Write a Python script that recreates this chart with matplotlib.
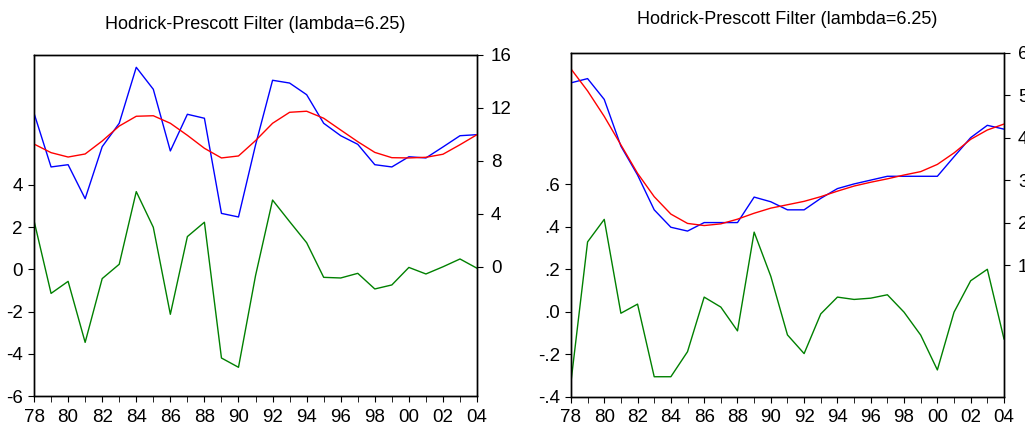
import matplotlib
matplotlib.use('Agg')
import matplotlib.pyplot as plt

plt.rcParams['font.family'] = ['Liberation Sans', 'DejaVu Sans']

# years 1978..2004
years = list(range(1978, 2005))
xtick_years = list(range(1978, 2005, 2))
xtick_labels = ['78', '80', '82', '84', '86', '88', '90', '92', '94', '96', '98', '00', '02', '04']

# left panel: actual, trend (right axis), cycle (left axis)
left_actual = [11.6, 7.54, 7.71, 5.14, 9.07, 10.84, 15.07, 13.41, 8.75, 11.52, 11.22, 4.03, 3.76,
               9.2, 14.09, 13.88, 13.0, 10.84, 9.9, 9.25, 7.71, 7.54, 8.31, 8.22, 9.05, 9.9, 9.98]
left_trend = [9.27, 8.62, 8.29, 8.52, 9.5, 10.63, 11.37, 11.41, 10.84, 9.93, 8.95, 8.22, 8.37,
              9.53, 10.84, 11.67, 11.75, 11.22, 10.33, 9.45, 8.64, 8.24, 8.22, 8.27, 8.5, 9.22, 9.98]
left_cycle = [2.3, -1.14, -0.57, -3.46, -0.44, 0.24, 3.68, 1.99, -2.13, 1.55, 2.23, -4.2, -4.64,
              -0.3, 3.28, 2.26, 1.26, -0.38, -0.41, -0.19, -0.93, -0.74, 0.09, -0.22, 0.12, 0.49, 0.05]

# right panel
right_actual = [5.29, 5.39, 4.9, 3.8, 3.12, 2.3, 1.89, 1.8, 2.0, 2.0, 2.0, 2.6, 2.49,
                2.3, 2.3, 2.57, 2.8, 2.91, 3.0, 3.09, 3.09, 3.09, 3.09, 3.55, 4.0, 4.29, 4.2]
right_trend = [5.62, 5.1, 4.5, 3.83, 3.16, 2.61, 2.2, 1.98, 1.93, 1.97, 2.08, 2.22, 2.34,
               2.42, 2.5, 2.61, 2.74, 2.86, 2.95, 3.03, 3.12, 3.2, 3.37, 3.64, 3.96, 4.18, 4.32]
right_cycle = [-0.333, 0.329, 0.435, -0.007, 0.036, -0.306, -0.306, -0.188, 0.069, 0.022, -0.09, 0.375, 0.167,
               -0.109, -0.197, -0.01, 0.069, 0.058, 0.064, 0.08, -0.002, -0.11, -0.274, -0.002, 0.146, 0.2, -0.128]

title = 'Hodrick-Prescott Filter (lambda=6.25)'

fig = plt.figure(figsize=(10.25, 4.25), dpi=100)


def panel(rect, cycle, actual, trend, ylim_l, yt_l, ylab_l, ylim_r, yt_r, title_pad):
    ax = fig.add_axes(rect)
    ax.plot(years, cycle, color='#008000', lw=1)
    ax.set_xlim(1978, 2004)
    ax.set_ylim(*ylim_l)
    ax.set_yticks(yt_l)
    ax.set_yticklabels(ylab_l)
    ax.set_xticks(years, minor=True)
    ax.set_xticks(xtick_years)
    ax.set_xticklabels(xtick_labels)
    ax.tick_params(axis='both', which='both', direction='out', length=4, labelsize=13.5, pad=4)
    ax.tick_params(axis='x', which='both', pad=5)
    ax2 = ax.twinx()
    ax2.plot(years, actual, color='#0000FF', lw=1)
    ax2.plot(years, trend, color='#FF0000', lw=1)
    ax2.set_ylim(*ylim_r)
    ax2.set_yticks(yt_r)
    ax2.tick_params(axis='y', direction='out', length=4, labelsize=13.5, pad=6)
    for a in (ax, ax2):
        for s in a.spines.values():
            s.set_linewidth(1)
    ax.set_title(title, fontsize=13, pad=title_pad)
    return ax, ax2


panel([0.0332, 0.0682, 0.4322, 0.8024], left_cycle, left_actual, left_trend,
      (-6, 10.15), [-6, -4, -2, 0, 2, 4], ['-6', '-4', '-2', '0', '2', '4'],
      (-9.77, 16), [0, 4, 8, 12, 16], 19)

panel([0.557, 0.0666, 0.4225, 0.8094], right_cycle, right_actual, right_trend,
      (-0.4, 1.22), [-0.4, -0.2, 0.0, 0.2, 0.4, 0.6], ['-.4', '-.2', '.0', '.2', '.4', '.6'],
      (-2.1, 6), [1, 2, 3, 4, 5, 6], 21)

fig.savefig('out.png', dpi=100)
